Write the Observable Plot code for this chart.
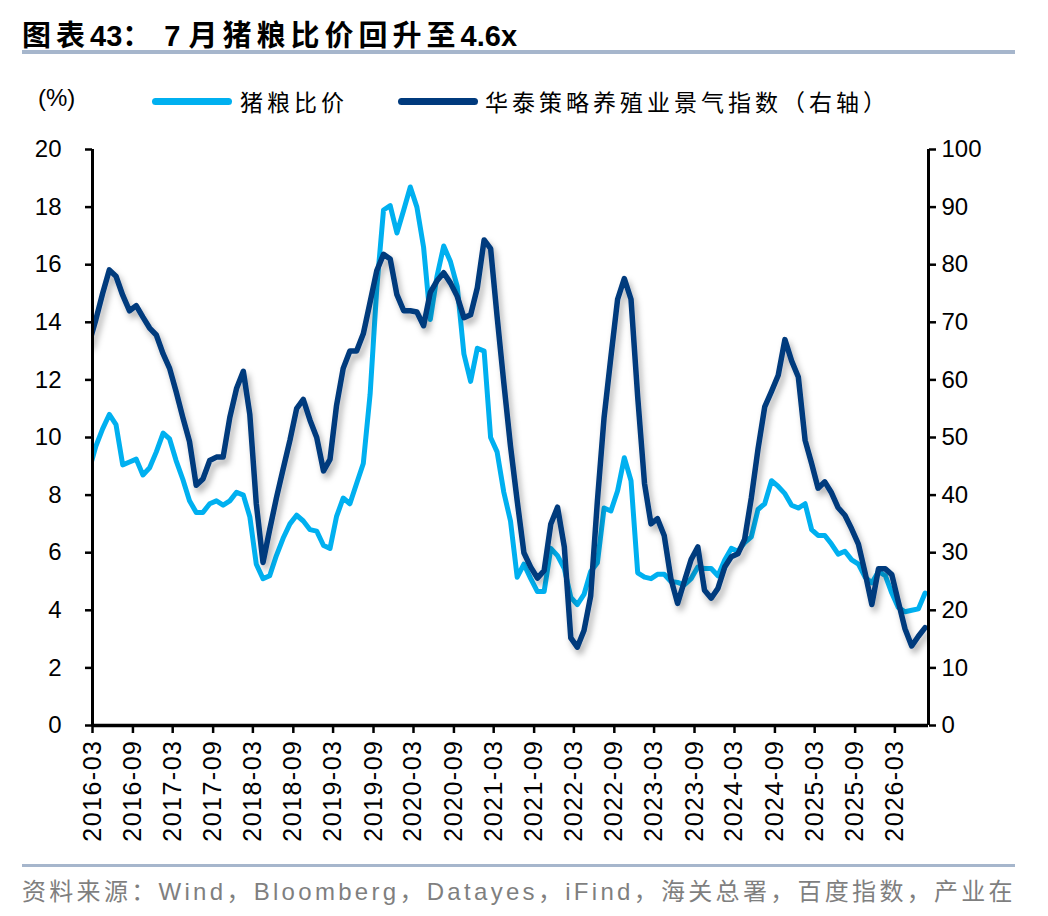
<!DOCTYPE html>
<html><head><meta charset="utf-8">
<script src="https://cdn.jsdelivr.net/npm/d3@7"></script>
<script src="https://cdn.jsdelivr.net/npm/@observablehq/plot@0.6"></script>
<style>
body{margin:0;background:#fff;width:1048px;height:916px;position:relative;overflow:hidden;font-family:"Liberation Sans",Arial,"Noto Sans CJK SC",sans-serif;}
#title{position:absolute;left:22px;top:12px;font-weight:bold;font-size:29px;font-family:"Liberation Sans","Noto Sans CJK SC",sans-serif;color:#000;white-space:nowrap}
#title .c{letter-spacing:5px}
.rule{position:absolute;left:22px;width:993px;background:#a6b6cc}
#legend{position:absolute;left:0;top:84px;width:1048px;height:34px;font-family:"Noto Sans CJK SC",sans-serif;font-size:23px;letter-spacing:4px;color:#000}
#legend span,#legend i{position:absolute;white-space:nowrap}
#legend i{height:7px;border-radius:4px;top:14px}
#chart{position:absolute;left:0;top:130px}
#source{position:absolute;left:22px;top:872px;font-size:24px;font-family:"Liberation Sans","Noto Sans CJK SC",sans-serif;color:#7f7f7f;letter-spacing:3.3px;white-space:nowrap}
</style></head>
<body>
<div id="title"><span class="c">图表</span>43<span class="c">：</span>&nbsp;7 <span class="c">月猪粮比价回升至</span>4.6x</div>
<div class="rule" style="top:50px;height:4px"></div>
<div id="legend"></div>
<div id="chart"></div>
<div class="rule" style="top:864px;height:3px"></div>
<div id="source">资料来源：Wind，Bloomberg，Datayes，iFind，海关总署，百度指数，产业在</div>
<script>
// ---- data ----
const firstMonth = "2016-02"; // monthly observations, plotted mid-month
const pigGrainRatio = [
 8.9, 9.7,10.3,10.8,10.45,9.05,9.15,9.25,8.7,8.95,9.5,10.15,
 9.95,9.2,8.55,7.8,7.4,7.4,7.7,7.8,7.65,7.8,8.1,8.0,
 7.25,5.6,5.1,5.2,5.9,6.5,7.0,7.3,7.1,6.8,6.75,6.25,
 6.15,7.25,7.9,7.7,8.4,9.1,11.5,15.2,17.9,18.05,17.1,17.9,
 18.7,18.0,16.6,14.1,15.6,16.65,16.1,15.25,12.9,11.95,13.1,13.0,
 10.0,9.5,8.1,7.1,5.15,5.6,5.1,4.65,4.65,6.15,5.9,5.45,
 4.45,4.2,4.55,5.35,5.65,7.55,7.45,8.15,9.3,8.5,5.3,5.15,
 5.1,5.25,5.25,5.0,4.97,4.88,5.1,5.5,5.45,5.45,5.2,5.75,
 6.15,6.05,6.35,6.55,7.5,7.7,8.5,8.3,8.05,7.65,7.55,7.7,
 6.8,6.6,6.6,6.3,5.95,6.05,5.75,5.6,5.15,4.95,5.35,5.2,
 4.6,4.1,3.95,4.0,4.05,4.6
];
const farmIndex = [
 66.5,70.5,75,79.1,78,74.7,72.0,72.9,70.9,69.0,67.8,64.5,
 62.0,58.0,53.5,49.3,41.7,42.8,46.0,46.6,46.6,53.5,58.5,61.5,
 54,38.5,28.3,34.0,39.5,44.5,49.5,55.0,56.6,53.0,50.0,44.2,
 46.2,55.5,62.0,65.0,65.0,68.0,73.5,79.0,81.8,81.0,74.8,72.0,
 72.0,71.8,69.4,75.2,77.2,78.6,76.8,74.5,70.8,71.3,76.0,84.3,
 82.8,71.0,59.5,48.5,39.0,30.0,27.5,25.6,26.9,35.0,37.9,31.0,
 15.2,13.6,16.5,22.5,39.0,53.5,64.0,74.0,77.6,74.0,57.0,42.0,
 35.0,35.9,33.0,25.5,21.2,25.0,28.8,31.0,23.5,22.1,23.8,27.5,
 29.3,29.8,32.3,39.5,48.0,55.3,58.0,60.8,67.0,63.3,60.5,49.5,
 45.5,41.2,42.3,40.4,37.8,36.5,34.1,31.5,26.5,21.0,27.2,27.2,
 26.2,21.5,16.8,13.8,15.5,17.0
];
const xTickLabels = ["2016-03","2016-09","2017-03","2017-09","2018-03","2018-09","2019-03","2019-09",
 "2020-03","2020-09","2021-03","2021-09","2022-03","2022-09","2023-03","2023-09","2024-03","2024-09",
 "2025-03","2025-09","2026-03"];
const leftTicks = [0,2,4,6,8,10,12,14,16,18,20];
const rightTicks = [0,10,20,30,40,50,60,70,80,90,100];
const axisStart = "2016-03", axisEnd = "2026-08";
const seriesNames = ["猪粮比价","华泰策略养殖业景气指数（右轴）"];
const colors = ["#00b0f0","#003a7d"];

// ---- build ----
const parseM = d3.utcParse("%Y-%m");
const t0 = parseM(firstMonth);
const rows = pigGrainRatio.map((v,i)=>{
  const m = d3.utcMonth.offset(t0,i);
  const mid = new Date((+m + +d3.utcMonth.offset(m,1))/2);
  return {date:mid, ratio:v, idx:farmIndex[i]/5};
});
const ratioRight = 100/20;

// legend
const lg = document.getElementById("legend");
lg.innerHTML = `<span style="left:38px;top:0;letter-spacing:0;font-family:'Liberation Sans';font-size:24px">(%)</span>
<i style="left:152px;width:80px;background:${colors[0]}"></i><span style="left:240px;top:0">${seriesNames[0]}</span>
<i style="left:398px;width:80px;background:${colors[1]}"></i><span style="left:485px;top:0">${seriesNames[1]}</span>`;

const svg = Plot.plot({
  width:1048, height:720,
  marginTop:19, marginBottom:125, marginLeft:92, marginRight:120,
  style:{fontFamily:"'Liberation Sans',Arial,sans-serif", fontSize:"24px", color:"#000", background:"transparent", overflow:"visible"},
  x:{type:"utc", domain:[parseM(axisStart), parseM(axisEnd)]},
  y:{domain:[0,20]},
  marks:[
    Plot.axisY({anchor:"left", ticks:leftTicks, tickSize:7, tickPadding:24, strokeWidth:2.5, label:null, fontSize:24}),
    Plot.axisY({anchor:"right", ticks:rightTicks.map(d=>d/ratioRight), tickFormat:(d)=>String(Math.round(d*ratioRight)), tickSize:7, tickPadding:6, strokeWidth:2.5, label:null, fontSize:24}),
    Plot.axisX({ticks:xTickLabels.map(parseM), tickFormat:d3.utcFormat("%Y-%m"), tickRotate:-90, tickSize:8, tickPadding:6, strokeWidth:2.5, label:null, fontSize:25}),
    Plot.line(rows,{x:"date", y:"ratio", stroke:colors[0], strokeWidth:5, clip:true, strokeLinejoin:"round", curve:"linear"}),
    Plot.line(rows,{x:"date", y:"idx", stroke:colors[1], strokeWidth:5.5, clip:true, strokeLinejoin:"round", curve:"linear"}),
    Plot.ruleX([parseM(axisStart)],{stroke:"#000", strokeWidth:3}),
    Plot.ruleX([parseM(axisEnd)],{stroke:"#000", strokeWidth:3}),
    Plot.ruleY([0],{stroke:"#000", strokeWidth:3.5})
  ]
});
document.getElementById("chart").appendChild(svg);
// drop shadow on the index line
const ns = "http://www.w3.org/2000/svg";
const defs = document.createElementNS(ns,"defs");
defs.innerHTML = '<filter id="shadow" x="-5%" y="-5%" width="115%" height="120%"><feDropShadow dx="3" dy="5" stdDeviation="3" flood-color="#000" flood-opacity="0.3"/></filter>';
svg.insertBefore(defs, svg.firstChild);
const lines = svg.querySelectorAll('g[aria-label="line"]');
if (lines.length>1) lines[1].setAttribute("filter","url(#shadow)");
// x tick label letter spacing
svg.querySelectorAll('g[aria-label="x-axis tick label"] text').forEach(t=>t.setAttribute("letter-spacing","1.5"));
</script>
</body></html>
